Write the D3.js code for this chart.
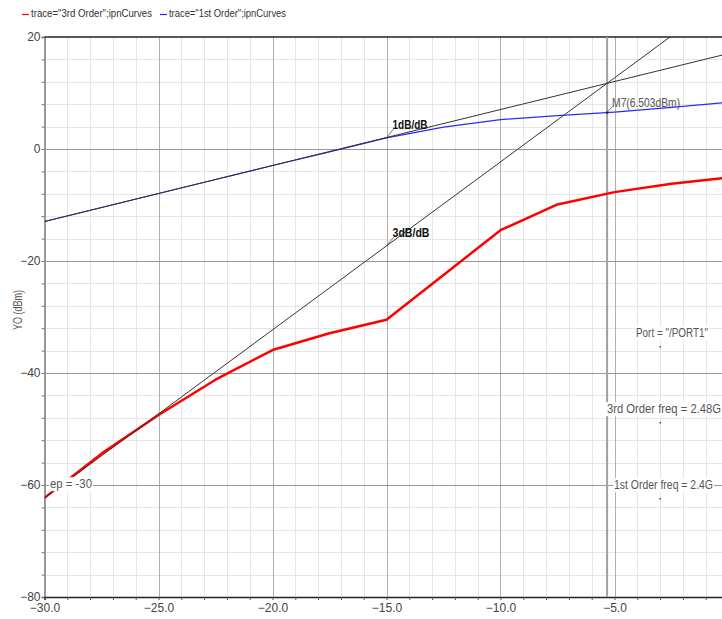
<!DOCTYPE html>
<html>
<head>
<meta charset="utf-8">
<script src="https://cdn.jsdelivr.net/npm/d3@7"></script>
<style>
  html, body { margin: 0; padding: 0; background: #fff; }
  svg { display: block; }
  text { font-family: "Liberation Sans", "DejaVu Sans", sans-serif; }
</style>
</head>
<body>
<svg id="chart" width="722" height="619"></svg>
<script>
// Swept input power (dBm)
const inputPower = [-30, -27.5, -25, -22.5, -20, -17.5, -15, -12.5, -10, -7.5, -5, -2.5, 0];
// Third-order intermod output (dBm)
const thirdOrder = [-62.3, -54.4, -47.5, -41.2, -35.9, -32.9, -30.5, -22.5, -14.5, -9.9, -7.7, -6.2, -5.1];
// First-order (fundamental) output (dBm)
const firstOrder = [-12.95, -10.45, -7.95, -5.45, -2.95, -0.5, 2.0, 3.9, 5.25, 5.95, 6.6, 7.45, 8.35];

// Axis ticks
const xTicks = [-30, -25, -20, -15, -10, -5];
const yTicks = [20, 0, -20, -40, -60, -80];

// Legend entries
const legendLabels = ['trace="3rd Order";ipnCurves', 'trace="1st Order";ipnCurves'];
// Sweep / annotation labels
const sweepLabels = ['Port = "/PORT1"', '3rd Order freq = 2.48G', '1st Order freq = 2.4G'];
const epLabel = "ep = -30";
const markerValue = 6.503;           // M7 reading on the first-order trace
const markerName = "M7";
const slopeLabels = ["1dB/dB", "3dB/dB"];

const svg = d3.select("#chart");
const W = 722, H = 619;
const pLeft = 44.5, pTop = 37, pBottom = 597;

const x = d3.scaleLinear().domain([-30, 0]).range([pLeft, 728.5]);
const y = d3.scaleLinear().domain([-80, 20]).range([pBottom, pTop]);
const pRight = W;

// squeeze a text element to a given advance width (narrow UI font look)
function fit(sel, w) {
  return sel.attr("textLength", w).attr("lengthAdjust", "spacingAndGlyphs");
}

// clip region for data
svg.append("defs").append("clipPath").attr("id", "plot")
  .append("rect").attr("x", pLeft).attr("y", pTop).attr("width", pRight - pLeft).attr("height", pBottom - pTop);

const grid = svg.append("g");
// minor grid
grid.selectAll(".vminor").data(d3.range(-29, 1, 1).filter(v => v % 5 !== 0))
  .join("line").attr("x1", d => Math.round(x(d)) + 0.5).attr("x2", d => Math.round(x(d)) + 0.5)
  .attr("y1", pTop).attr("y2", pBottom).attr("stroke", "#e6e6e6");
grid.selectAll(".hminor").data(d3.range(-76, 20, 4).filter(v => v % 20 !== 0))
  .join("line").attr("y1", d => Math.round(y(d)) + 0.5).attr("y2", d => Math.round(y(d)) + 0.5)
  .attr("x1", pLeft).attr("x2", pRight).attr("stroke", "#e6e6e6");
// major grid
grid.selectAll(".vmajor").data([-25, -20, -15, -10, -5])
  .join("line").attr("x1", d => Math.round(x(d)) + 0.5).attr("x2", d => Math.round(x(d)) + 0.5)
  .attr("y1", pTop).attr("y2", pBottom).attr("stroke", "#b0b0b0");
grid.selectAll(".hmajor").data([0, -20, -40, -60])
  .join("line").attr("y1", d => Math.round(y(d)) + 0.5).attr("y2", d => Math.round(y(d)) + 0.5)
  .attr("x1", pLeft).attr("x2", pRight).attr("stroke", "#999");

// Axes
const yAxis = d3.axisLeft(y).tickValues(d3.range(-80, 21, 4)).tickSize(3)
  .tickFormat(d => yTicks.includes(d) ? d3.format("d")(d) : "");
const gy = svg.append("g").attr("transform", `translate(${pLeft},0)`).call(yAxis);
gy.select(".domain").attr("stroke", "#999").attr("stroke-width", 2);
gy.selectAll(".tick line").attr("stroke", "#777");
gy.selectAll(".tick text").attr("fill", "#444").attr("font-size", 12).attr("x", -4)
  .style("font-family", "Liberation Sans, sans-serif");

const xAxis = d3.axisBottom(x).tickValues(d3.range(-30, 0, 1)).tickSize(3)
  .tickFormat(d => xTicks.includes(d) ? d3.format(".1f")(d) : "");
const gx = svg.append("g").attr("transform", `translate(0,${pBottom})`).call(xAxis);
gx.select(".domain").attr("stroke", "#222").attr("stroke-width", 1.5);
gx.selectAll(".tick line").attr("stroke", "#555");
gx.selectAll(".tick text").attr("fill", "#444").attr("font-size", 12).attr("dy", "0.75em")
  .style("font-family", "Liberation Sans, sans-serif");

// top frame line
svg.append("line").attr("x1", pLeft).attr("x2", pRight).attr("y1", pTop).attr("y2", pTop)
  .attr("stroke", "#222").attr("stroke-width", 1.5);

// Y label
fit(svg.append("text").attr("transform", "translate(19,310) rotate(-90)")
  .attr("text-anchor", "middle").attr("dominant-baseline", "middle")
  .attr("font-size", 12).attr("fill", "#555").text("YO (dBm)"), 40);

// Intercept: extrapolate 1 dB/dB and 3 dB/dB from the first sweep point
const x0 = inputPower[0];
const f0 = firstOrder[0], t0 = thirdOrder[0];
const ext1 = v => f0 + (v - x0);
const ext3 = v => t0 + 3 * (v - x0);
const ipX = x0 + (f0 - t0) / 2;

const plot = svg.append("g").attr("clip-path", "url(#plot)");

// marker vertical line at intercept input
plot.append("line").attr("x1", x(ipX)).attr("x2", x(ipX)).attr("y1", pTop).attr("y2", pBottom)
  .attr("stroke", "#a0a0a0").attr("stroke-width", 2);

const line = d3.line().x(d => x(d[0])).y(d => y(d[1]));
plot.append("path").datum(inputPower.map((v, i) => [v, thirdOrder[i]]))
  .attr("d", line).attr("fill", "none").attr("stroke", "#ff0000").attr("stroke-width", 2.5)
  .attr("stroke-linejoin", "round");
plot.append("path").datum(inputPower.map((v, i) => [v, firstOrder[i]]))
  .attr("d", line).attr("fill", "none").attr("stroke", "#2a2aff").attr("stroke-width", 1.2);

// extrapolation lines
const xs = [x0, 0];
plot.append("path").datum(xs.map(v => [v, ext1(v)])).attr("d", line)
  .attr("fill", "none").attr("stroke", "#333").attr("stroke-width", 1);
plot.append("path").datum(xs.map(v => [v, ext3(v)])).attr("d", line)
  .attr("fill", "none").attr("stroke", "#333").attr("stroke-width", 1);

// slope labels with leaders, at input -15
const lx = -15;
function slopeLabel(val, txt, w) {
  const px = x(lx), py = y(val);
  svg.append("line").attr("x1", px).attr("y1", py).attr("x2", px + 7).attr("y2", py - 8.5)
    .attr("stroke", "#555").attr("stroke-width", 0.8);
  fit(svg.append("text").attr("x", px + 6).attr("y", py - 9).attr("font-size", 13)
    .attr("font-weight", "bold").attr("fill", "#111").text(txt), w);
}
slopeLabel(ext1(lx), slopeLabels[0], 35);
slopeLabel(ext3(lx), slopeLabels[1], 37);

// M7 marker
const mx = x(ipX), my = y(markerValue);
svg.append("rect").attr("x", mx - 1).attr("y", my - 1).attr("width", 2).attr("height", 2).attr("fill", "#111");
svg.append("line").attr("x1", mx).attr("y1", my).attr("x2", mx + 6).attr("y2", my - 7)
  .attr("stroke", "#555").attr("stroke-width", 0.8);
fit(svg.append("text").attr("x", mx + 5).attr("y", my - 6).attr("font-size", 12).attr("fill", "#555")
  .text(`${markerName}(${d3.format(".3f")(markerValue)}dBm)`), 68);

// labels with white backing
function boxedLabel(lx0, cy, txt, w) {
  const g = svg.append("g");
  const t = fit(g.append("text").attr("x", lx0).attr("y", cy)
    .attr("dominant-baseline", "middle").attr("font-size", 12).attr("fill", "#555").text(txt), w);
  const b = t.node().getBBox();
  g.insert("rect", "text").attr("x", lx0 - 1).attr("y", b.y).attr("width", w + 2)
    .attr("height", b.height).attr("fill", "#fff");
  return g;
}
boxedLabel(x(x0) + 5.5, y(-60), epLabel, 42);

const sweepPos = [[636, 334], [607, 410], [614, 486]];
const sweepW = [72, 114, 99];
sweepLabels.forEach((s, i) => {
  boxedLabel(sweepPos[i][0], sweepPos[i][1], s, sweepW[i]);
  svg.append("rect").attr("x", 659.5).attr("y", sweepPos[i][1] + 12).attr("width", 1.5)
    .attr("height", 1.5).attr("fill", "#444");
});

// legend
const legColors = ["#ff0000", "#2a2aff"];
const legX = [22, 160];
const legW = [121, 117];
legendLabels.forEach((s, i) => {
  svg.append("line").attr("x1", legX[i]).attr("x2", legX[i] + 7).attr("y1", 14.5).attr("y2", 14.5)
    .attr("stroke", legColors[i]).attr("stroke-width", 1.2);
  fit(svg.append("text").attr("x", legX[i] + 9).attr("y", 14).attr("dominant-baseline", "middle")
    .attr("font-size", 11).attr("fill", "#333").text(s), legW[i]);
});
</script>
</body>
</html>
